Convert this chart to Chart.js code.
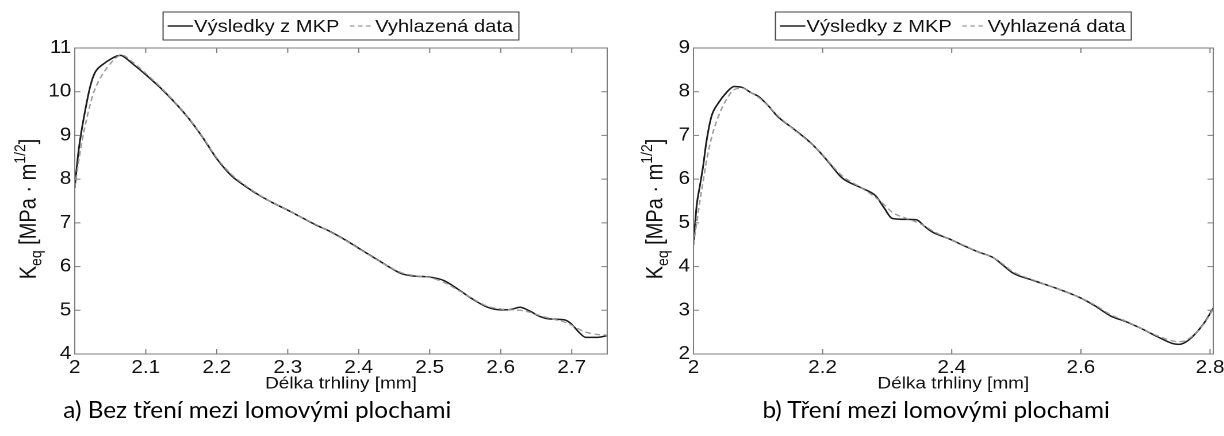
<!DOCTYPE html>
<html>
<head>
<meta charset="utf-8">
<script src="https://cdn.jsdelivr.net/npm/chart.js@4.4.1/dist/chart.umd.min.js"></script>
<style>
  html, body { margin: 0; padding: 0; background: #fff; width: 1224px; height: 436px; overflow: hidden; }
  /* the source figure is stretched horizontally, so the whole page is too */
  #page { position: absolute; left: 0; top: 0; width: 1064px; height: 436px; transform: scaleX(1.15); transform-origin: 0 0; }
  .box { position: absolute; top: 0; width: 532px; height: 400px; }
  .cap { position: absolute; top: 395px; font-family: Lato, 'Open Sans', sans-serif; font-size: 23px; color: #000; white-space: nowrap; transform: scaleX(0.92); transform-origin: 0 0; }
</style>
</head>
<body>
<div id="page">
  <div class="box" style="left:0"><canvas id="chart-a" width="532" height="400"></canvas></div>
  <div class="box" style="left:532px"><canvas id="chart-b" width="532" height="400"></canvas></div>
  <div class="cap" style="left:55px">a) Bez tření mezi lomovými plochami</div>
  <div class="cap" style="left:663px">b) Tření mezi lomovými plochami</div>
</div>
<script>
// Délka trhliny [mm] / K_eq values
const lengthA = [2.0, 2.005, 2.01, 2.015, 2.02, 2.025, 2.03, 2.04, 2.05, 2.06, 2.065, 2.07, 2.08, 2.1, 2.12, 2.14, 2.16, 2.18, 2.2, 2.22, 2.24, 2.26, 2.28, 2.3, 2.32, 2.34, 2.36, 2.38, 2.4, 2.42, 2.44, 2.46, 2.48, 2.5, 2.52, 2.54, 2.56, 2.58, 2.6, 2.615, 2.627, 2.64, 2.655, 2.67, 2.69, 2.7, 2.71, 2.72, 2.735, 2.75];
const femA = [7.8, 8.6, 9.15, 9.6, 10.0, 10.3, 10.48, 10.63, 10.74, 10.82, 10.83, 10.79, 10.66, 10.39, 10.1, 9.77, 9.4, 8.96, 8.47, 8.09, 7.84, 7.63, 7.45, 7.29, 7.12, 6.95, 6.8, 6.62, 6.42, 6.22, 6.02, 5.84, 5.78, 5.76, 5.68, 5.48, 5.26, 5.08, 5.01, 5.02, 5.07, 4.99, 4.86, 4.8, 4.78, 4.68, 4.5, 4.38, 4.38, 4.42];
const smoothA = [7.8, 8.35, 8.85, 9.25, 9.6, 9.9, 10.12, 10.42, 10.64, 10.8, 10.84, 10.82, 10.7, 10.42, 10.12, 9.78, 9.41, 8.97, 8.49, 8.12, 7.86, 7.64, 7.45, 7.29, 7.12, 6.96, 6.79, 6.61, 6.41, 6.21, 6.02, 5.86, 5.79, 5.75, 5.64, 5.46, 5.27, 5.1, 5.03, 5.01, 5.0, 4.96, 4.88, 4.81, 4.73, 4.66, 4.57, 4.5, 4.45, 4.43];

const lengthB = [2.0, 2.005, 2.01, 2.015, 2.02, 2.028, 2.039, 2.051, 2.063, 2.075, 2.09, 2.1, 2.117, 2.13, 2.155, 2.18, 2.2, 2.213, 2.23, 2.26, 2.282, 2.295, 2.308, 2.33, 2.345, 2.358, 2.37, 2.395, 2.42, 2.44, 2.465, 2.478, 2.495, 2.525, 2.57, 2.6, 2.622, 2.646, 2.67, 2.694, 2.718, 2.742, 2.752, 2.766, 2.79, 2.805];
const femB = [4.5, 5.4, 5.85, 6.3, 6.85, 7.44, 7.75, 7.98, 8.12, 8.1, 7.97, 7.9, 7.66, 7.44, 7.15, 6.85, 6.55, 6.32, 6.03, 5.8, 5.62, 5.35, 5.1, 5.08, 5.07, 4.92, 4.79, 4.64, 4.47, 4.34, 4.2, 4.05, 3.85, 3.69, 3.46, 3.28, 3.1, 2.87, 2.74, 2.58, 2.4, 2.24, 2.22, 2.31, 2.69, 3.05];
const smoothB = [4.5, 5.0, 5.5, 5.95, 6.4, 6.95, 7.45, 7.82, 8.05, 8.08, 7.97, 7.88, 7.66, 7.46, 7.14, 6.84, 6.56, 6.34, 6.08, 5.8, 5.58, 5.42, 5.24, 5.1, 5.02, 4.93, 4.82, 4.64, 4.48, 4.34, 4.2, 4.07, 3.88, 3.7, 3.46, 3.28, 3.12, 2.9, 2.75, 2.58, 2.42, 2.3, 2.28, 2.34, 2.68, 3.03];

const xTicksA = [2, 2.1, 2.2, 2.3, 2.4, 2.5, 2.6, 2.7];
const xTicksB = [2, 2.2, 2.4, 2.6, 2.8];
const yTicksA = [4, 5, 6, 7, 8, 9, 10, 11];
const yTicksB = [2, 3, 4, 5, 6, 7, 8, 9];

const seriesNames = ['Výsledky z MKP', 'Vyhlazená data'];
const xTitle = 'Délka trhliny [mm]';

const FONT = "'Liberation Sans', Arial, Helvetica, sans-serif";
const frameColor = '#7d7d7d';
const textColor = '#111';

Chart.defaults.font.family = FONT;
Chart.defaults.color = textColor;

// MATLAB-like box, inward ticks, legend box, axis titles
const matlabAxes = {
  id: 'matlabAxes',
  afterDatasetsDraw(chart, args, opts) {
    const { ctx, chartArea: a } = chart;
    const xs = chart.scales.x;
    const ys = chart.scales.y;
    ctx.save();
    // frame
    ctx.strokeStyle = frameColor;
    ctx.lineWidth = 1;
    ctx.strokeRect(a.left, a.top, a.right - a.left, a.bottom - a.top);
    ctx.beginPath();
    opts.xTicks.forEach((v) => {
      const px = xs.getPixelForValue(v);
      ctx.moveTo(px, a.bottom); ctx.lineTo(px, a.bottom - 5);
      ctx.moveTo(px, a.top); ctx.lineTo(px, a.top + 5);
    });
    opts.yTicks.forEach((v) => {
      const py = ys.getPixelForValue(v);
      ctx.moveTo(a.left, py); ctx.lineTo(a.left + 5, py);
      ctx.moveTo(a.right, py); ctx.lineTo(a.right - 5, py);
    });
    ctx.stroke();

    // x title
    const cx = (a.left + a.right) / 2;
    ctx.fillStyle = textColor;
    ctx.font = `16.5px ${FONT}`;
    ctx.textAlign = 'center';
    ctx.textBaseline = 'middle';
    ctx.fillText(xTitle, cx, 384);

    // y title: K_eq [MPa · m^1/2], rotated
    const parts = [
      { t: 'K', f: 20, dy: 0 },
      { t: 'eq', f: 14, dy: 5 },
      { t: ' [MPa \u00b7 m', f: 20, dy: 0 },
      { t: '1/2', f: 14, dy: -9 },
      { t: ']', f: 20, dy: 0 },
    ];
    let total = 0;
    parts.forEach((p) => { ctx.font = `${p.f}px ${FONT}`; p.w = ctx.measureText(p.t).width; total += p.w; });
    ctx.translate(opts.yLabelX, (a.top + a.bottom) / 2 + 8);
    ctx.rotate(-Math.PI / 2);
    ctx.textAlign = 'left';
    ctx.textBaseline = 'alphabetic';
    let pos = -total / 2;
    parts.forEach((p) => {
      ctx.font = `${p.f}px ${FONT}`;
      ctx.fillText(p.t, pos, p.dy);
      pos += p.w;
    });
    ctx.restore();

    // legend box
    ctx.save();
    ctx.font = `17.5px ${FONT}`;
    const w1 = ctx.measureText(seriesNames[0]).width;
    const w2 = ctx.measureText(seriesNames[1]).width;
    const lw = 4 + 22 + 1 + w1 + 9 + 21 + 1 + w2 + 5;
    const lx = cx - lw / 2;
    const ly = 12;
    const lh = 28;
    ctx.fillStyle = '#fff';
    ctx.fillRect(lx, ly, lw, lh);
    ctx.strokeStyle = '#444';
    ctx.lineWidth = 1;
    ctx.strokeRect(lx, ly, lw, lh);
    const my = ly + lh / 2;
    let px = lx + 4;
    ctx.strokeStyle = '#222';
    ctx.lineWidth = 1.5;
    ctx.beginPath(); ctx.moveTo(px, my); ctx.lineTo(px + 22, my); ctx.stroke();
    px += 23;
    ctx.fillStyle = textColor;
    ctx.textAlign = 'left';
    ctx.textBaseline = 'middle';
    ctx.fillText(seriesNames[0], px, my + 1);
    px += w1 + 9;
    ctx.strokeStyle = '#9a9a9a';
    ctx.lineWidth = 1.2;
    ctx.setLineDash([4, 3]);
    ctx.beginPath(); ctx.moveTo(px, my); ctx.lineTo(px + 21, my); ctx.stroke();
    ctx.setLineDash([]);
    px += 22;
    ctx.fillText(seriesNames[1], px, my + 1);
    ctx.restore();
  },
};

const makeChart = (id, lengths, fem, smooth, xMax, xTicks, yTicks, yAxisWidth, rightPad, yLabelX) => {
  const ctx = document.getElementById(id);
  // eslint-disable-next-line no-new
  new Chart(ctx, {
    type: 'line',
    data: {
      datasets: [
        {
          label: seriesNames[1],
          data: lengths.map((v, i) => ({ x: v, y: smooth[i] })),
          borderColor: '#9a9a9a',
          borderWidth: 1.3,
          borderDash: [5, 3],
          pointRadius: 0,
          cubicInterpolationMode: 'monotone',
        },
        {
          label: seriesNames[0],
          data: lengths.map((v, i) => ({ x: v, y: fem[i] })),
          borderColor: '#1c1c1c',
          borderWidth: 1.5,
          pointRadius: 0,
          cubicInterpolationMode: 'monotone',
        },
      ],
    },
    options: {
      responsive: false,
      animation: false,
      devicePixelRatio: 2,
      layout: { padding: { top: 48, left: 0, right: rightPad, bottom: 0 } },
      plugins: {
        legend: { display: false },
        tooltip: { enabled: false },
        matlabAxes: { xTicks, yTicks, yLabelX },
      },
      scales: {
        x: {
          type: 'linear',
          min: 2,
          max: xMax,
          grid: { display: false, drawTicks: false },
          border: { display: false },
          afterBuildTicks: (s) => { s.ticks = xTicks.map((v) => ({ value: v })); },
          afterFit: (s) => { s.height = 46; s.paddingLeft = 0; s.paddingRight = 0; },
          ticks: {
            autoSkip: false,
            maxRotation: 0,
            padding: 3,
            color: textColor,
            font: { size: 18 },
            callback: (v) => String(v),
          },
        },
        y: {
          min: yTicks[0],
          max: yTicks[yTicks.length - 1],
          grid: { display: false, drawTicks: false },
          border: { display: false },
          afterBuildTicks: (s) => { s.ticks = yTicks.map((v) => ({ value: v })); },
          afterFit: (s) => { s.width = yAxisWidth; s.paddingTop = 0; s.paddingBottom = 0; },
          ticks: {
            padding: 3,
            color: textColor,
            font: { size: 18 },
            callback: (v) => String(v),
          },
        },
      },
    },
    plugins: [matlabAxes],
  });
};

makeChart('chart-a', lengthA, femA, smoothA, 2.75, xTicksA, yTicksA, 65, 4, 31);
makeChart('chart-b', lengthB, femB, smoothB, 2.805, xTicksB, yTicksB, 71, 9, 44);
</script>
</body>
</html>
